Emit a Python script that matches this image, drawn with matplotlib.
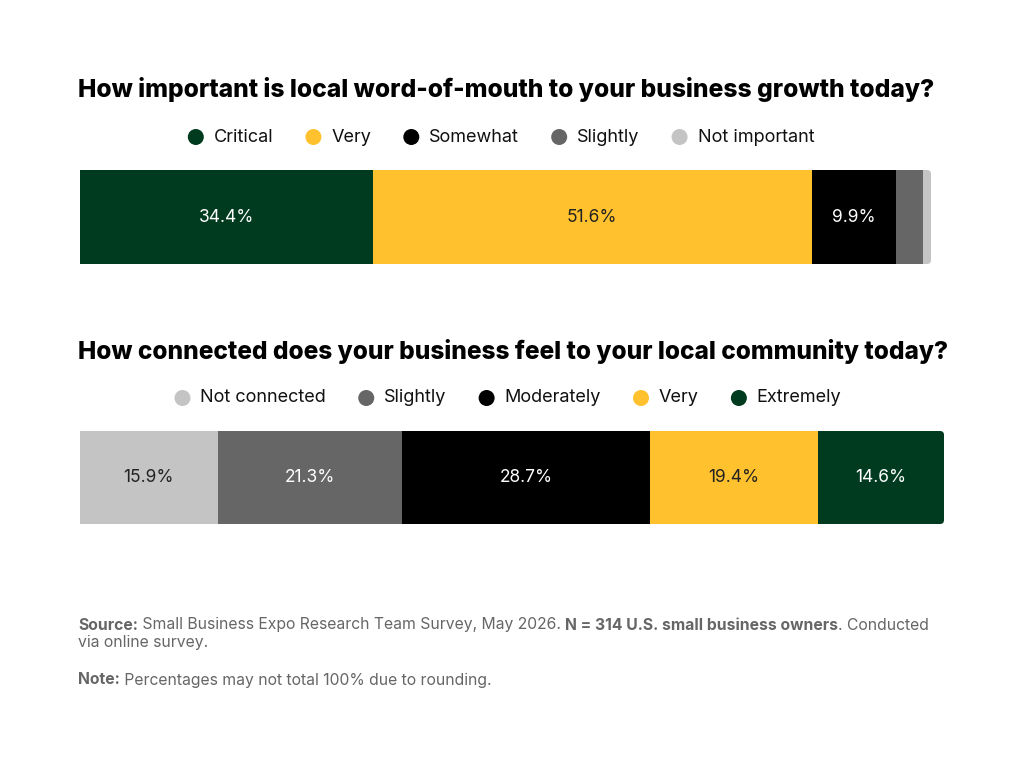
import matplotlib
matplotlib.use("Agg")
import matplotlib.pyplot as plt
from matplotlib.patches import Circle, FancyBboxPatch

plt.rcParams['font.family'] = ['Inter', 'DejaVu Sans']

# ---- data ----
title_top = "How important is local word-of-mouth to your business growth today?"
cats_top = ["Critical", "Very", "Somewhat", "Slightly", "Not important"]
vals_top = [34.4, 51.6, 9.9, 3.2, 0.9]
cols_top = ["#003B1F", "#FFC22E", "#000000", "#666666", "#C4C4C4"]

title_bot = "How connected does your business feel to your local community today?"
cats_bot = ["Not connected", "Slightly", "Moderately", "Very", "Extremely"]
vals_bot = [15.9, 21.3, 28.7, 19.4, 14.6]
cols_bot = ["#C4C4C4", "#666666", "#000000", "#FFC22E", "#003B1F"]

dark_text = {"#FFC22E", "#C4C4C4"}

W, H = 1024, 768
fig = plt.figure(figsize=(W / 100, H / 100), dpi=100)
fig.patch.set_facecolor("white")
renderer = fig.canvas.get_renderer()

# overlay axes in pixel coords for titles / legends / notes
ov = fig.add_axes([0, 0, 1, 1])
ov.set_xlim(0, W)
ov.set_ylim(H, 0)
ov.axis("off")


def fit_title(text, x0, x1, y):
    t = ov.text(x0, y, text, fontsize=15, fontweight="heavy", color="#000000",
                ha="left", va="center")
    w = t.get_window_extent(renderer).width
    t.set_fontsize(15 * (x1 - x0) / w)
    return t


def legend_row(cats, cols, cx, y):
    gap_mark, gap_item, r = 10, 32, 8
    items = []
    total = 0
    for c in cats:
        t = ov.text(0, y, c, fontsize=13, color="#111111", ha="left", va="center")
        w = t.get_window_extent(renderer).width
        items.append((t, w))
        total += 2 * r + gap_mark + w
    total += gap_item * (len(cats) - 1)
    x = cx - total / 2
    for (t, w), col in zip(items, cols):
        ov.add_patch(Circle((x + r, y), r, color=col, lw=0))
        t.set_x(x + 2 * r + gap_mark)
        x += 2 * r + gap_mark + w + gap_item


def stacked_bar(vals, cols, x0, x1, y0, y1):
    ax = fig.add_axes([x0 / W, 1 - y1 / H, (x1 - x0) / W, (y1 - y0) / H])
    clip = FancyBboxPatch((x0 - 20, y0), x1 - x0 + 20, y1 - y0,
                          boxstyle="round,pad=0,rounding_size=4",
                          transform=ov.transData)
    left = 0
    for v, c in zip(vals, cols):
        bars = ax.barh(0, v, left=left, height=1, color=c, lw=0)
        for b in bars:
            b.set_clip_path(clip)
        if v >= 5:
            ax.text(left + v / 2, 0, f"{v:.1f}%", ha="center", va="center",
                    fontsize=12.5, color="#222222" if c in dark_text else "white")
        left += v
    ax.set_xlim(0, sum(vals))
    ax.set_ylim(-0.5, 0.5)
    ax.axis("off")


# top chart
fit_title(title_top, 78, 933, 90)
legend_row(cats_top, cols_top, 501, 137)
stacked_bar(vals_top, cols_top, 80, 931, 170, 264)

# bottom chart
fit_title(title_bot, 78, 945, 352)
legend_row(cats_bot, cols_bot, 508, 398)
stacked_bar(vals_bot, cols_bot, 80, 944, 431, 524)

# source / note with mixed weights
gray = "#666666"


def rich_line(parts, x, y, size):
    x_start = x
    for txt, bold in parts:
        t = ov.text(x, y, txt, fontsize=size, color=gray, ha="left", va="center",
                    fontweight="bold" if bold else "normal")
        x += t.get_window_extent(renderer).width
    return x - x_start


line1 = [("Source:", True),
         (" Small Business Expo Research Team Survey, May 2026. ", False),
         ("N = 314 U.S. small business owners", True),
         (". Conducted", False)]

# font size that makes the first source line span the reference width
probe = 12.0
tmp = []
xw = 0
for txt, bold in line1:
    t = ov.text(0, 0, txt, fontsize=probe, fontweight="bold" if bold else "normal")
    xw += t.get_window_extent(renderer).width
    tmp.append(t)
for t in tmp:
    t.remove()
src_size = probe * (930 - 78) / xw

rich_line(line1, 78, 625, src_size)
rich_line([("via online survey.", False)], 78, 643, src_size)
rich_line([("Note:", True),
           (" Percentages may not total 100% due to rounding.", False)], 78, 680, src_size)

fig.savefig("out.png", dpi=100, facecolor="white")
